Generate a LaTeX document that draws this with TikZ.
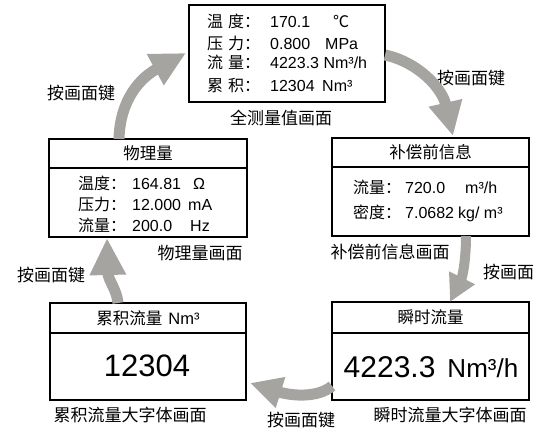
\documentclass[tikz,border=0pt]{standalone}
\usepackage{fontspec}
\setmainfont{Liberation Sans}
\newfontfamily\cjk{Noto Sans CJK SC}
\usetikzlibrary{arrows.meta}
\definecolor{arrowgray}{RGB}{166,164,161}
\begin{document}
\begin{tikzpicture}[x=1pt,y=-1pt,
  frame/.style={draw=black, line width=1.4pt, inner sep=0pt, outer sep=0pt, anchor=north west},
  head/.style={frame, font=\cjk\fontsize{16.5}{16.5}\selectfont},
  txt/.style={inner sep=0pt, anchor=base west, font=\fontsize{16}{16}\selectfont},
  ctxt/.style={inner sep=0pt, anchor=base west, font=\cjk\fontsize{16}{16}\selectfont},
  lbl/.style={inner sep=0pt, font=\cjk\fontsize{17}{17}\selectfont},
  bigarrow/.style={draw=arrowgray, line width=11pt},
]
\useasboundingbox (0,0) rectangle (535,428);

% ---------- boxes ----------
\node[frame, minimum width=196pt, minimum height=97pt] (top) at (189,5) {};
\node[head, minimum width=198pt, minimum height=29pt] (lhead) at (49,139) {物理量};
\node[frame, minimum width=198pt, minimum height=69pt] (lbody) at (49,168) {};
\node[head, minimum width=197pt, minimum height=29pt] (rhead) at (332,138) {补偿前信息};
\node[frame, minimum width=197pt, minimum height=69pt] (rbody) at (332,167) {};
\node[head, minimum width=196pt, minimum height=30pt] (blhead) at (50,303) {累积流量\hspace{6pt}{\fontspec{Liberation Sans}Nm³}};
\node[frame, minimum width=196pt, minimum height=67pt] (blbody) at (50,333) {};
\node[head, minimum width=197pt, minimum height=31pt] (brhead) at (332,302) {瞬时流量};
\node[frame, minimum width=197pt, minimum height=67pt] (brbody) at (332,333) {};

% ---------- top box text ----------
\node[ctxt] (t1l) at (207,28) {温\hspace{5pt}度：};
\node[txt] (t1v) at (270,28) {170.1};
\node[ctxt] (t1u) at (333,28) {℃};
\node[ctxt] (t2l) at (207,49) {压\hspace{5pt}力：};
\node[txt] (t2v) at (270,49) {0.800};
\node[txt] (t2u) at (325,49) {MPa};
\node[ctxt] (t3l) at (207,69) {流\hspace{5pt}量：};
\node[txt] (t3v) at (270,69) {4223.3 Nm³/h};
\node[ctxt] (t4l) at (207,91) {累\hspace{5pt}积：};
\node[txt] (t4v) at (270,91) {12304};
\node[txt] (t4u) at (322,91) {Nm³};

% ---------- left box text ----------
\node[ctxt] (l1l) at (78,189) {温度：};
\node[txt] (l1v) at (132,189) {164.81};
\node[txt] (l1u) at (193,189) {Ω};
\node[ctxt] (l2l) at (78,210) {压力：};
\node[txt] (l2v) at (132,210) {12.000};
\node[txt] (l2u) at (188,210) {mA};
\node[ctxt] (l3l) at (78,231) {流量：};
\node[txt] (l3v) at (132,231) {200.0};
\node[txt] (l3u) at (190,231) {Hz};

% ---------- right box text ----------
\node[ctxt] (r1l) at (353,193) {流量：};
\node[txt] (r1v) at (405,193) {720.0};
\node[txt] (r1u) at (465,193) {m³/h};
\node[ctxt] (r2l) at (353,218) {密度：};
\node[txt] (r2v) at (405,218) {7.0682};
\node[txt] (r2u) at (458,218) {kg/ m³};

% ---------- big numbers ----------
\node[inner sep=0pt, font=\fontsize{31}{31}\selectfont] (blnum) at (147,366) {12304};
\node[inner sep=0pt] (brnum) at (431,367) {{\fontsize{30}{30}\selectfont 4223.3}\hspace{12pt}{\fontsize{26}{26}\selectfont Nm³/h}};

% ---------- labels ----------
\node[lbl] (ltop) at (281,118) {全测量值画面};
\node[lbl] (k1) at (81,93) {按画面键};
\node[lbl] (k2) at (471,78) {按画面键};
\node[lbl] (lright) at (390,252) {补偿前信息画面};
\node[lbl, anchor=west] (k3) at (483,272) {按画面};
\node[lbl] (lleft) at (200,253) {物理量画面};
\node[lbl] (k5) at (51,275) {按画面键};
\node[lbl] (lbl2) at (130,415) {累积流量大字体画面};
\node[lbl] (lbr) at (450,415) {瞬时流量大字体画面};
\node[lbl] (k4) at (301,420) {按画面键};

% ---------- arrows ----------
\coordinate (a1s) at (119,139);
\coordinate (a1e) at (186,53);
\coordinate (a2s) at (385,55);
\coordinate (a2e) at (453,136);
\coordinate (a3s) at (466,236);
\coordinate (a3e) at (450,302);
\coordinate (a4s) at (332,386);
\coordinate (a4e) at (250,383);
\coordinate (a5s) at (118,303);
\coordinate (a5e) at (107,238);

\draw[bigarrow, -{Triangle[length=35pt,width=33pt]}] (a1s) .. controls (120,100) and (140,78) .. (a1e);
\draw[bigarrow, -{Triangle[length=34pt,width=32pt]}] (a2s) .. controls (418,62) and (442,88) .. (a2e);
\draw[bigarrow, line width=10pt, -{Triangle[length=27pt,width=27pt]}] (a3s) .. controls (466,262) and (462,278) .. (a3e);
\draw[bigarrow, -{Triangle[length=32pt,width=30pt]}] (a4s) .. controls (318,398) and (292,396) .. (a4e);
\draw[bigarrow, -{Triangle[length=37pt,width=34pt]}] (a5s) .. controls (117,290) and (108,280) .. (a5e);
\end{tikzpicture}
\end{document}
